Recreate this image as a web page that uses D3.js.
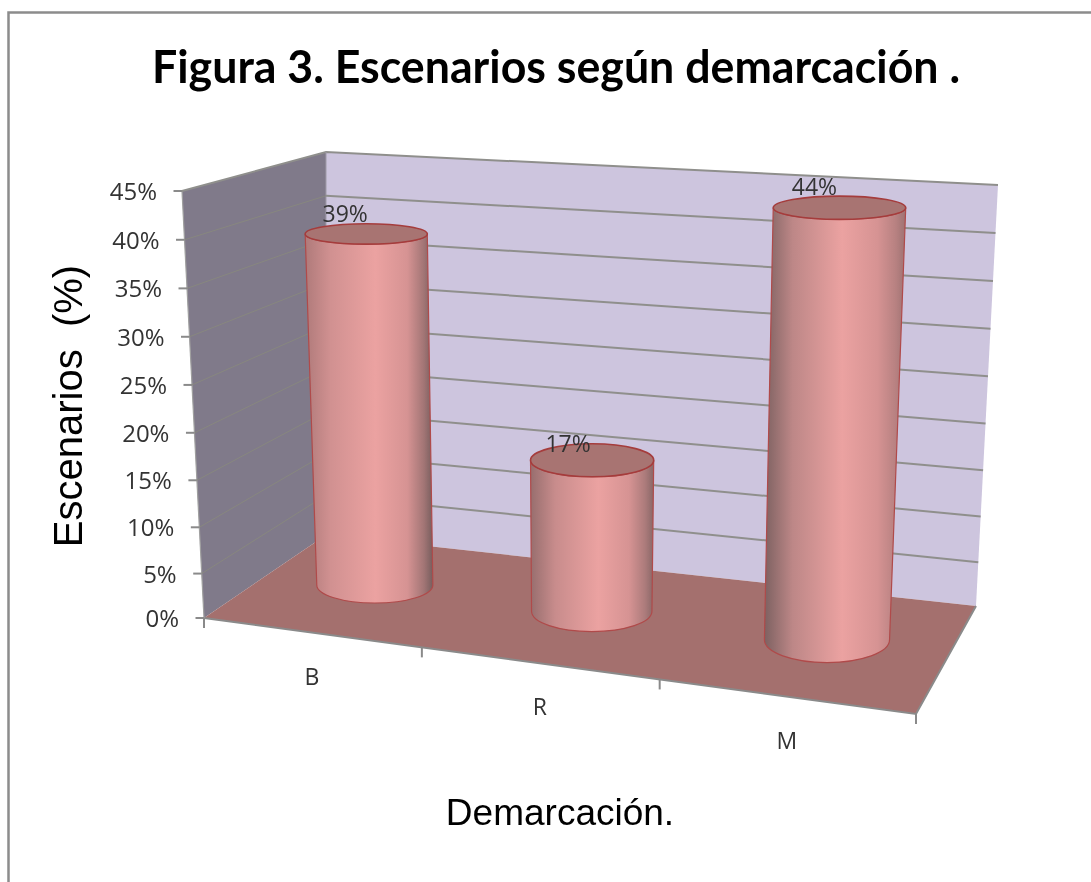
<!DOCTYPE html>
<html><head><meta charset="utf-8">
<style>html,body{margin:0;padding:0;background:#fff}svg{display:block;filter:blur(.45px)}</style>
<script src="https://cdn.jsdelivr.net/npm/d3@7/dist/d3.min.js"></script>
</head><body><svg id="c" width="1091" height="882"></svg>
<script>
const categories = ["B","R","M"];
const values = [39,17,44];
const valueLabels = ["39%","17%","44%"];
const tickValues = [0,5,10,15,20,25,30,35,40,45];
const titleText = "Figura 3. Escenarios según demarcación .";
const yTitle = "Escenarios  (%)";
const xTitle = "Demarcación.";

const svg = d3.select("#c");

// 3D box corners in pixels (u: left-right, d: front-back, v: bottom-top)
const FLB=[204,618], FLT=[182,191], BLB=[326,535], BLT=[326,152], BRB=[976,606], BRT=[998,185], FRB=[916,714];
const lerp=(a,b,t)=>[a[0]+(b[0]-a[0])*t,a[1]+(b[1]-a[1])*t];
const vScale=d3.scalePow().exponent(1.03).domain([0,45]).range([0,1]);
const uScale=d3.scaleLinear().domain([0,1,2,3]).range([0,.306,.64,1]);
const floorPt=(u,d)=>lerp(lerp(FLB,FRB,u),lerp(BLB,BRB,u),d);
const leftFront=p=>lerp(FLB,FLT,vScale(p));
const leftBack=p=>lerp(BLB,BLT,vScale(p));
const rightBack=p=>lerp(BRB,BRT,vScale(p));
const poly=pts=>d3.line()(pts)+"Z";
const defs=svg.append("defs");
const labelFont="'Open Sans'";

// frame
svg.append("path").attr("d",d3.line()([[1091,12.5],[8.5,12.5],[8.5,882]])).attr("fill","none").attr("stroke","#8c8c8c").attr("stroke-width",2.5);

// walls
svg.append("path").attr("d",poly([FLB,FLT,BLT,BLB])).attr("fill","#807a8a");
svg.append("path").attr("d",poly([BLB,BLT,BRT,BRB])).attr("fill","#cdc5de");
svg.append("path").attr("d",poly([FLB,BLB,BRB,FRB])).attr("fill","#a4706e");
// edges
svg.append("path").attr("d",d3.line()([FLB,FRB,BRB])).attr("fill","none").attr("stroke","#8a8a8a").attr("stroke-width",2);
svg.append("path").attr("d",d3.line()([FLT,FLB])).attr("fill","none").attr("stroke","#a0a0a0").attr("stroke-width",1.2);
svg.append("path").attr("d",d3.line()([FLT,BLT,BRT])).attr("fill","none").attr("stroke","#8f8f8c").attr("stroke-width",2);
svg.append("path").attr("d",d3.line()([BLB,BLT])).attr("fill","none").attr("stroke","#a09ca8").attr("stroke-width",1);

// gridlines
tickValues.slice(1,-1).forEach(t=>{
  svg.append("path").attr("d",d3.line()([leftFront(t),leftBack(t)])).attr("fill","none").attr("stroke","#87877f").attr("stroke-width",1);
  svg.append("path").attr("d",d3.line()([leftBack(t),rightBack(t)])).attr("fill","none").attr("stroke","#8f8f8c").attr("stroke-width",2);
});

// value axis ticks + labels
tickValues.forEach(t=>{
  const p=leftFront(t);
  svg.append("path").attr("d",d3.line()([[p[0]-8.5,p[1]],p])).attr("stroke","#8a8a8a").attr("stroke-width",2).attr("fill","none");
  svg.append("text").attr("x",p[0]-25).attr("y",p[1]+9).attr("text-anchor","end")
    .attr("font-family",labelFont).attr("font-size",24).attr("fill","#333").text(t+"%");
});
// category ticks
[0,1,2,3].forEach(i=>{
  const p=floorPt(uScale(i),0);
  svg.append("path").attr("d",d3.line()([p,[p[0],p[1]+10]])).attr("stroke","#8a8a8a").attr("stroke-width",2).attr("fill","none");
});

// cylinders
const depth=.55;
const uCenters=categories.map((c,i)=>uScale(i+.5));
const heightPerPct=d3.scaleLinear().domain(uCenters).range([9.0,8.88,9.82]);
const leanPerPct=d3.scaleLinear().domain([uCenters[0],uCenters[2]]).range([-.22,.284]);
const rxBase=d3.scaleLinear().domain([0,1]).range([57,63.8]);
const ryBase=d3.scaleLinear().domain([0,1]).range([17,24]);
const leftShade=d3.scaleLinear().domain([0,1]).range(["#bb8080","#6f5a5a"]);
const rightShade=d3.scaleLinear().domain([0,1]).range(["#6e5858","#a87878"]);
const labelDx=[-21,-24,-25], labelDy=[-12,-8,-13];

categories.forEach((c,i)=>{
  const u=uCenters[i], v=values[i];
  const b=floorPt(u,depth);
  const top=[b[0]+leanPerPct(u)*v,b[1]-heightPerPct(u)*v];
  const vf=v/45;
  const rxB=rxBase(u), ryB=ryBase(u), rxT=rxB*(1+.06*vf), ryT=ryB*(1-.5*vf);
  const id="cyl"+i;
  const g=defs.append("linearGradient").attr("id",id).attr("x1",0).attr("x2",1).attr("y1",0).attr("y2",0);
  [[0,leftShade(u)],[.2,d3.interpolateRgb(leftShade(u),"#e8a0a0")(.6)],[.55,"#eba2a1"],[.8,"#d69393"],[.93,d3.interpolateRgb(rightShade(u),"#d69393")(.45)],[1,rightShade(u)]]
    .forEach(s=>g.append("stop").attr("offset",s[0]).attr("stop-color",s[1]));
  const side=`M${top[0]-rxT},${top[1]} L${b[0]-rxB},${b[1]} A${rxB},${ryB} 0 0 0 ${b[0]+rxB},${b[1]} L${top[0]+rxT},${top[1]} A${rxT},${ryT} 0 0 1 ${top[0]-rxT},${top[1]}Z`;
  svg.append("path").attr("d",side).attr("fill",`url(#${id})`).attr("stroke","#b04a4a").attr("stroke-width",1.2);
  svg.append("ellipse").attr("cx",top[0]).attr("cy",top[1]).attr("rx",rxT).attr("ry",ryT).attr("fill","#a87472").attr("stroke","#a53c3c").attr("stroke-width",1.6);
  svg.append("text").attr("x",top[0]+labelDx[i]).attr("y",top[1]+labelDy[i]).attr("text-anchor","middle")
    .attr("font-family",labelFont).attr("font-size",23).attr("fill","#333").text(valueLabels[i]);
  const a=floorPt(u,0);
  svg.append("text").attr("x",a[0]-1).attr("y",a[1]+52).attr("text-anchor","middle")
    .attr("font-family",labelFont).attr("font-size",23).attr("fill","#333").text(c);
});

// titles
svg.append("text").attr("x",556).attr("y",83).attr("text-anchor","middle").attr("font-family","Lato").attr("font-weight",700)
  .attr("font-size",46).attr("fill","#000").attr("textLength",808).attr("lengthAdjust","spacingAndGlyphs").text(titleText);
svg.append("text").attr("transform","translate(82,406) rotate(-90)").attr("text-anchor","middle").attr("font-family","'Liberation Sans'")
  .attr("font-size",40).attr("fill","#000").style("white-space","pre").text(yTitle);
svg.append("text").attr("x",560).attr("y",825).attr("text-anchor","middle").attr("font-family","'Liberation Sans'")
  .attr("font-size",37).attr("fill","#000").text(xTitle);
</script></body></html>
